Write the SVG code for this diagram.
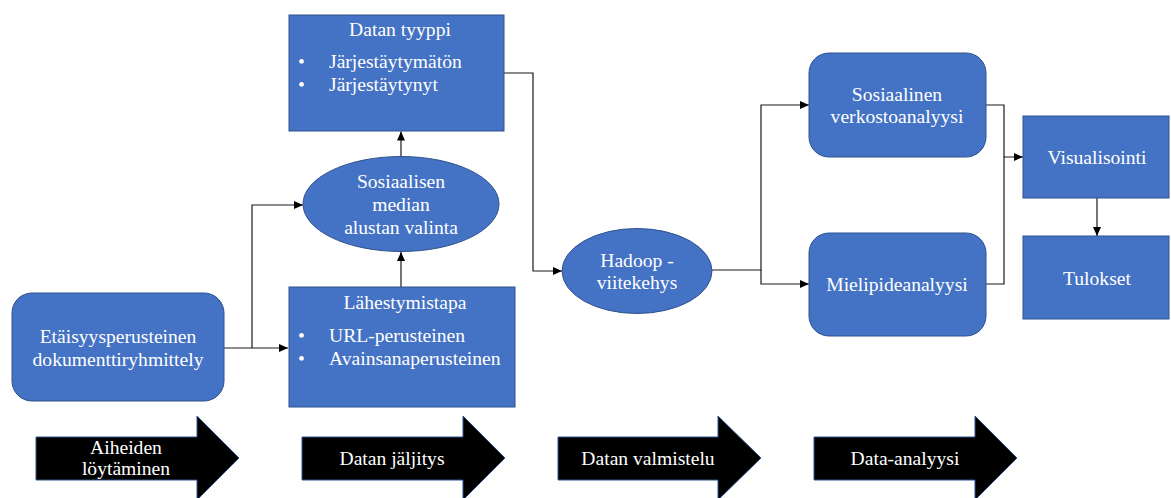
<svg xmlns="http://www.w3.org/2000/svg" width="1171" height="498" viewBox="0 0 1171 498">
<style>
.n{fill:#4472C4;stroke:#2F528F;stroke-width:1}
.t{font-family:'Liberation Serif','Tinos','Times New Roman','DejaVu Serif',serif;font-size:19.6px;fill:#fff}
.c{text-anchor:middle}
.c1{fill:none;stroke:#1a1a1a;stroke-width:1.2}
.ar{fill:#000;stroke:#2F528F;stroke-width:1}
</style>
<defs>
<marker id="ah" markerUnits="userSpaceOnUse" markerWidth="9" markerHeight="8" refX="9" refY="4" orient="auto">
<path d="M0,0 L9,4 L0,8 z" fill="#000"/>
</marker>
</defs>
<g id="connectors">
<path class="c1" d="M224,348 H288" marker-end="url(#ah)"/>
<path class="c1" d="M252,348 V205 H303" marker-end="url(#ah)"/>
<path class="c1" d="M401,287 V252" marker-end="url(#ah)"/>
<path class="c1" d="M401,157 V131.5" marker-end="url(#ah)"/>
<path class="c1" d="M504,73 H533 V271 H562" marker-end="url(#ah)"/>
<path class="c1" d="M712,270 H761 V105 H809" marker-end="url(#ah)"/>
<path class="c1" d="M761,270 V284 H809" marker-end="url(#ah)"/>
<path class="c1" d="M986,105 H1004 V157 H1023" marker-end="url(#ah)"/>
<path class="c1" d="M986,284 H1004 V157"/>
<path class="c1" d="M1097,198 V236" marker-end="url(#ah)"/>
</g>
<g id="etaisyys">
<rect class="n" x="12" y="293" width="212" height="108" rx="20"/>
<text class="t c" x="118" y="343">Etäisyysperusteinen</text>
<text class="t c" x="118" y="366">dokumenttiryhmittely</text>
</g>
<g id="datan-tyyppi">
<rect class="n" x="289" y="15" width="215" height="116"/>
<text class="t c" x="400" y="36">Datan tyyppi</text>
<text class="t" x="298" y="68">•</text>
<text class="t" x="329" y="68">Järjestäytymätön</text>
<text class="t" x="298" y="91">•</text>
<text class="t" x="329" y="91">Järjestäytynyt</text>
</g>
<g id="alusta">
<ellipse class="n" cx="401" cy="204" rx="98" ry="47.5"/>
<text class="t c" x="401" y="188">Sosiaalisen</text>
<text class="t c" x="401" y="211">median</text>
<text class="t c" x="401" y="234">alustan valinta</text>
</g>
<g id="lahestymistapa">
<rect class="n" x="289" y="287" width="226" height="120"/>
<text class="t c" x="405" y="309">Lähestymistapa</text>
<text class="t" x="298" y="342">•</text>
<text class="t" x="329" y="342">URL-perusteinen</text>
<text class="t" x="298" y="365">•</text>
<text class="t" x="329" y="365">Avainsanaperusteinen</text>
</g>
<g id="hadoop">
<ellipse class="n" cx="637" cy="271" rx="75" ry="42.5"/>
<text class="t c" x="637" y="267">Hadoop -</text>
<text class="t c" x="637" y="289">viitekehys</text>
</g>
<g id="sosiaalinen">
<rect class="n" x="809" y="53" width="177" height="104" rx="20"/>
<text class="t c" x="897" y="101">Sosiaalinen</text>
<text class="t c" x="897" y="123">verkostoanalyysi</text>
</g>
<g id="mielipide">
<rect class="n" x="809" y="233" width="177" height="103" rx="20"/>
<text class="t c" x="897" y="291">Mielipideanalyysi</text>
</g>
<g id="visualisointi">
<rect class="n" x="1023" y="116" width="146" height="82"/>
<text class="t c" x="1097" y="164">Visualisointi</text>
</g>
<g id="tulokset">
<rect class="n" x="1023" y="236" width="146" height="83"/>
<text class="t c" x="1097" y="285">Tulokset</text>
</g>
<g id="vaihe1">
<polygon class="ar" points="36,437 197,437 197,416 239,458 197,500 197,480 36,480"/>
<text class="t c" x="126" y="454">Aiheiden</text>
<text class="t c" x="126" y="475">löytäminen</text>
</g>
<g id="vaihe2">
<polygon class="ar" points="302,437 463,437 463,416 505,458 463,500 463,480 302,480"/>
<text class="t c" x="392" y="465">Datan jäljitys</text>
</g>
<g id="vaihe3">
<polygon class="ar" points="558,437 718,437 718,416 761,458 718,500 718,480 558,480"/>
<text class="t c" x="648" y="465">Datan valmistelu</text>
</g>
<g id="vaihe4">
<polygon class="ar" points="814,437 975,437 975,416 1017,458 975,500 975,480 814,480"/>
<text class="t c" x="905" y="465">Data-analyysi</text>
</g>
</svg>
